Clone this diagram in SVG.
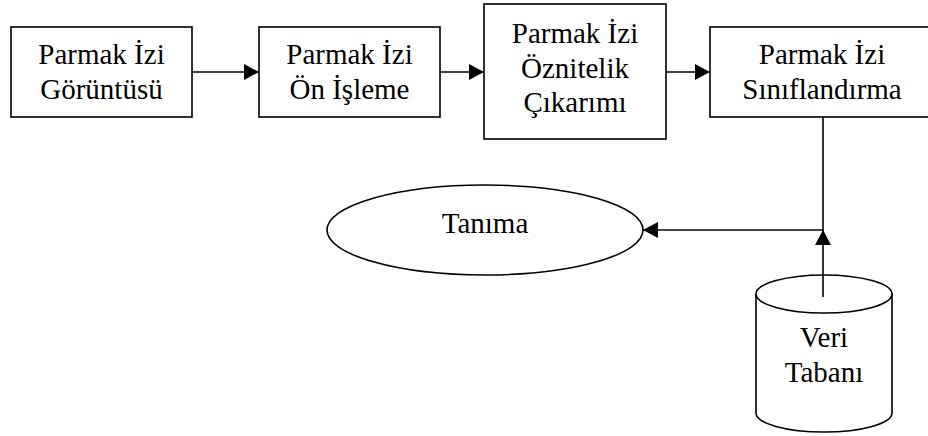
<svg xmlns="http://www.w3.org/2000/svg" width="928" height="436" viewBox="0 0 928 436">
<defs>
<marker id="ah" markerWidth="15" markerHeight="16" refX="15" refY="8" orient="auto" markerUnits="userSpaceOnUse">
<path d="M0,0 L15,8 L0,16 Z" fill="#000"/>
</marker>
<style>
.box{fill:#fff;stroke:#000;stroke-width:1.6}
.ln{fill:none;stroke:#000;stroke-width:1.6}
text{font-family:'Liberation Serif','Times New Roman','DejaVu Serif',serif;font-size:29px;fill:#000;text-anchor:middle}
</style>
</defs>
<rect width="928" height="436" fill="#fff"/>
<g id="connectors">
<line class="ln" x1="192" y1="72" x2="259" y2="72" marker-end="url(#ah)"/>
<line class="ln" x1="440" y1="72" x2="484" y2="72" marker-end="url(#ah)"/>
<line class="ln" x1="666" y1="72" x2="710" y2="72" marker-end="url(#ah)"/>
<line class="ln" x1="823" y1="117" x2="823" y2="230"/>
<line class="ln" x1="823" y1="230" x2="643" y2="230" marker-end="url(#ah)"/>
<line class="ln" x1="823" y1="297" x2="823" y2="230" marker-end="url(#ah)"/>
</g>
<g id="n1">
<rect class="box" x="11" y="27" width="181" height="90"/>
<text x="101.5" y="64" font-family="Liberation Serif, serif">Parmak İzi</text>
<text x="101.5" y="99" font-family="Liberation Serif, serif">Görüntüsü</text>
</g>
<g id="n2">
<rect class="box" x="259" y="27" width="181" height="90"/>
<text x="349.5" y="64" font-family="Liberation Serif, serif">Parmak İzi</text>
<text x="349.5" y="99" font-family="Liberation Serif, serif">Ön İşleme</text>
</g>
<g id="n3">
<rect class="box" x="484" y="4" width="182" height="135"/>
<text x="575" y="43" font-family="Liberation Serif, serif">Parmak İzi</text>
<text x="575" y="78" font-family="Liberation Serif, serif">Öznitelik</text>
<text x="575" y="112" font-family="Liberation Serif, serif">Çıkarımı</text>
</g>
<g id="n4">
<rect class="box" x="710" y="27" width="226" height="90"/>
<text x="822" y="64" font-family="Liberation Serif, serif">Parmak İzi</text>
<text x="822" y="99" font-family="Liberation Serif, serif">Sınıflandırma</text>
</g>
<g id="n5">
<ellipse class="box" cx="485" cy="230" rx="158" ry="45"/>
<text x="485" y="233" font-family="Liberation Serif, serif">Tanıma</text>
</g>
<g id="n6">
<path class="box" d="M756,294 L756,413 A68,19 0 0 0 892,413 L892,294"/>
<ellipse class="box" cx="824" cy="294" rx="68" ry="19"/>
<line class="ln" x1="823" y1="297" x2="823" y2="275"/>
<text x="824" y="347" font-family="Liberation Serif, serif">Veri</text>
<text x="824" y="382" font-family="Liberation Serif, serif">Tabanı</text>
</g>
</svg>
